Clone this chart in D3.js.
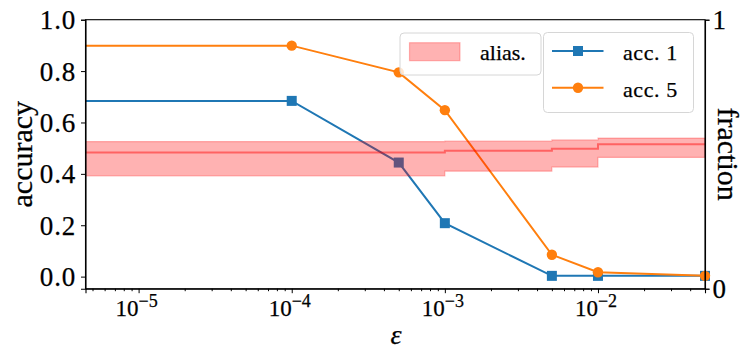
<!DOCTYPE html>
<html>
<head>
<meta charset="utf-8">
<script src="https://cdn.jsdelivr.net/npm/d3@7"></script>
<style>
  body { margin: 0; background: #fff; }
  svg text { stroke: #000; stroke-width: 0.25px; }
</style>
</head>
<body>
<div id="chart"></div>
<script>
// data
const eps = [1e-6, 1e-4, 5e-4, 1e-3, 5e-3, 1e-2, 5e-2];
const acc1 = [0.684, 0.684, 0.444, 0.208, 0.003, 0.003, 0.003];
const acc5 = [0.899, 0.899, 0.795, 0.648, 0.085, 0.017, 0.003];
const aliasMid = [0.506, 0.506, 0.506, 0.513, 0.520, 0.537, 0.537];
const aliasLo = [0.419, 0.419, 0.419, 0.437, 0.452, 0.488, 0.488];
const aliasHi = [0.547, 0.547, 0.547, 0.549, 0.553, 0.560, 0.560];
const accTicks = [0.0, 0.2, 0.4, 0.6, 0.8, 1.0];
const fracTicks = [0, 1];
const xTicks = [1e-5, 1e-4, 1e-3, 1e-2];

const W = 744, H = 361;
const pLeft = 85.5, pRight = 705, pTop = 19.7, pBottom = 288.7;
const serif = '"Liberation Serif", "Times New Roman", serif';

const svg = d3.select("#chart")
    .append("svg")
    .attr("width", W)
    .attr("height", H);

const x = d3.scaleLog().domain([4.5e-6, 5e-2]).range([pLeft, pRight]);
const y = d3.scaleLinear().domain([-0.047, 1.0]).range([pBottom, pTop]);
const y2 = d3.scaleLinear().domain([0, 1]).range([pBottom, pTop]);

svg.append("defs").append("clipPath")
    .attr("id", "plot")
    .append("rect")
    .attr("x", pLeft).attr("y", pTop - 6)
    .attr("width", pRight - pLeft + 6).attr("height", pBottom - pTop + 12);

const plot = svg.append("g").attr("clip-path", "url(#plot)");

const blue = "#1f77b4", orange = "#ff7f0e";

function series(vals, color, marker) {
    const pts = eps.map((e, i) => [e, vals[i]]);
    plot.append("path")
        .datum(pts)
        .attr("fill", "none")
        .attr("stroke", color)
        .attr("stroke-width", 2)
        .attr("d", d3.line().x(d => x(d[0])).y(d => y(d[1])));
    const g = plot.append("g");
    pts.forEach(d => {
        if (marker == "square") {
            g.append("rect")
                .attr("x", x(d[0]) - 5).attr("y", y(d[1]) - 5)
                .attr("width", 10).attr("height", 10)
                .attr("fill", color);
        } else {
            g.append("circle")
                .attr("cx", x(d[0])).attr("cy", y(d[1]))
                .attr("r", 5.2)
                .attr("fill", color);
        }
    });
}

series(acc1, blue, "square");
series(acc5, orange, "circle");

// alias band on the twin axis, drawn over the lines
const band = eps.map((e, i) => ({ e: e, lo: aliasLo[i], hi: aliasHi[i], mid: aliasMid[i] }));
const bandG = svg.append("g").attr("clip-path", "url(#plot)");
bandG.append("path")
    .datum(band)
    .attr("fill", "rgba(255,0,0,0.3)")
    .attr("stroke", "rgba(255,0,0,0.25)")
    .attr("stroke-width", 1.2)
    .attr("d", d3.area().curve(d3.curveStepAfter)
        .x(d => x(d.e)).y0(d => y2(d.lo)).y1(d => y2(d.hi)));
bandG.append("path")
    .datum(band)
    .attr("fill", "none")
    .attr("stroke", "rgba(255,0,0,0.45)")
    .attr("stroke-width", 2)
    .attr("d", d3.line().curve(d3.curveStepAfter)
        .x(d => x(d.e)).y(d => y2(d.mid)));

// axes
const fs = 27;
const yAxis = svg.append("g")
    .attr("transform", `translate(${pLeft},0)`)
    .call(d3.axisLeft(y).tickValues(accTicks).tickFormat(d3.format(".1f")).tickSize(4.5).tickPadding(5));
yAxis.selectAll("text")
    .style("font-family", serif)
    .style("font-size", fs + "px")
    .style("letter-spacing", "0.8px")
    .attr("dy", "0.33em");

const y2Axis = svg.append("g")
    .attr("transform", `translate(${pRight},0)`)
    .call(d3.axisRight(y2).tickValues(fracTicks).tickFormat(d3.format("d")).tickSize(4.5).tickPadding(3));
y2Axis.selectAll("text")
    .style("font-family", serif)
    .style("font-size", fs + "px")
    .attr("dy", "0.33em");

const minor = [];
[-6, -5, -4, -3, -2].forEach(p => {
    for (let k = 2; k <= 9; k++) {
        const v = k * Math.pow(10, p);
        if (v >= x.domain()[0] && v <= x.domain()[1]) minor.push(v);
    }
});
svg.append("g")
    .attr("transform", `translate(0,${pBottom})`)
    .call(d3.axisBottom(x).tickValues(xTicks).tickFormat("").tickSize(4.5));
svg.append("g")
    .attr("transform", `translate(0,${pBottom})`)
    .call(d3.axisBottom(x).tickValues(minor).tickFormat("").tickSize(2.5))
    .select(".domain").remove();

xTicks.forEach(v => {
    const t = svg.append("text")
        .attr("x", x(v) - 2)
        .attr("y", 316)
        .attr("text-anchor", "middle")
        .style("font-family", serif)
        .style("font-size", "23px");
    t.append("tspan").text("10");
    t.append("tspan")
        .attr("dy", -9.5)
        .style("font-size", "18px")
        .text("\u2212" + Math.round(-Math.log10(v)));
});

svg.selectAll(".domain").attr("stroke", "#000").attr("stroke-width", 1.1);
svg.selectAll(".tick line").attr("stroke", "#000").attr("stroke-width", 1);

// box
svg.append("rect")
    .attr("x", pLeft).attr("y", pTop)
    .attr("width", pRight - pLeft).attr("height", pBottom - pTop)
    .attr("fill", "none")
    .attr("stroke", "#000")
    .attr("stroke-width", 1.1);

// axis labels
svg.append("text")
    .attr("transform", `translate(23,${(pTop + pBottom) / 2}) rotate(-90)`)
    .attr("text-anchor", "middle")
    .attr("dy", "0.3em")
    .style("font-family", serif)
    .style("font-size", "30px")
    .text("accuracy");
svg.append("text")
    .attr("transform", `translate(727,${(pTop + pBottom) / 2}) rotate(90)`)
    .attr("text-anchor", "middle")
    .attr("dy", "0.3em")
    .style("font-family", serif)
    .style("font-size", "30px")
    .text("fraction");
svg.append("text")
    .attr("x", 396)
    .attr("y", 344)
    .attr("text-anchor", "middle")
    .style("font-family", serif)
    .style("font-size", "28px")
    .style("font-style", "italic")
    .text("\u03b5");

// legends
const lfs = 22;
const leg1 = svg.append("g");
leg1.append("rect")
    .attr("x", 400).attr("y", 33).attr("width", 141).attr("height", 42).attr("rx", 4)
    .attr("fill", "rgba(255,255,255,0.8)").attr("stroke", "#d6d6d6");
leg1.append("rect")
    .attr("x", 409.5).attr("y", 42.7).attr("width", 50.5).attr("height", 18)
    .attr("fill", "rgba(255,0,0,0.3)").attr("stroke", "rgba(255,0,0,0.25)").attr("stroke-width", 1.2);
leg1.append("text")
    .attr("x", 480).attr("y", 60)
    .style("font-family", serif)
    .style("font-size", lfs + "px")
    .text("alias.");

const leg2 = svg.append("g");
leg2.append("rect")
    .attr("x", 543.5).attr("y", 32.5).attr("width", 150).attr("height", 80).attr("rx", 4)
    .attr("fill", "rgba(255,255,255,0.8)").attr("stroke", "#d6d6d6");
const items = [["acc. 1", blue, "square", 51], ["acc. 5", orange, "circle", 87.7]];
items.forEach(it => {
    leg2.append("line")
        .attr("x1", 552).attr("x2", 603.5).attr("y1", it[3]).attr("y2", it[3])
        .attr("stroke", it[1]).attr("stroke-width", 2);
    if (it[2] == "square") {
        leg2.append("rect").attr("x", 573).attr("y", it[3] - 5).attr("width", 10).attr("height", 10).attr("fill", it[1]);
    } else {
        leg2.append("circle").attr("cx", 578).attr("cy", it[3]).attr("r", 5.2).attr("fill", it[1]);
    }
    leg2.append("text")
        .attr("x", 623).attr("y", it[3] + 9)
        .style("font-family", serif)
        .style("font-size", lfs + "px")
        .style("letter-spacing", "0.6px")
        .text(it[0]);
});
</script>
</body>
</html>
